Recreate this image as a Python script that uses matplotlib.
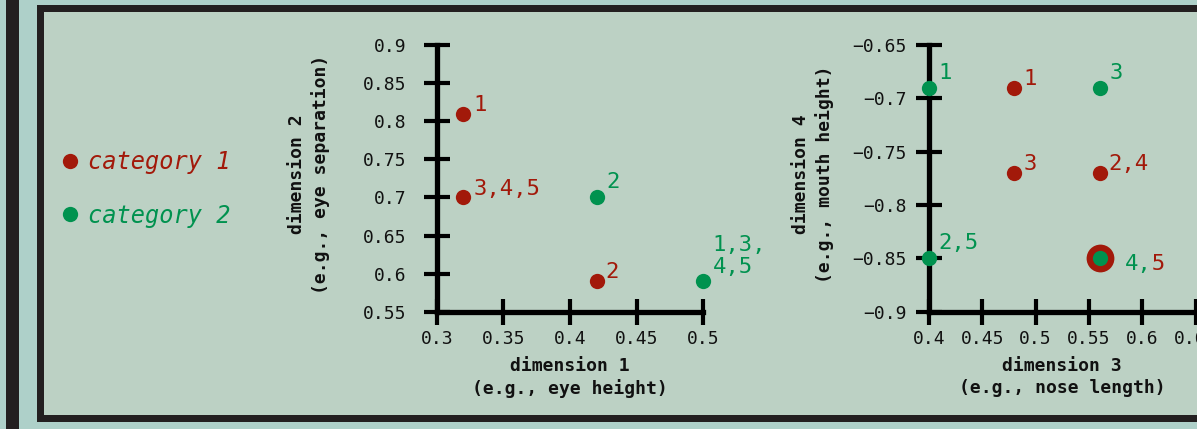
import matplotlib
matplotlib.use('Agg')
import matplotlib.pyplot as plt
from matplotlib.lines import Line2D
from matplotlib.patches import Rectangle

W, H = 1197, 429
RED = '#a2190a'
GREEN = '#00924f'
DARK = '#231f20'
OUTER = '#aed0c9'
INNER = '#bcd1c4'
TXT = '#111111'
MONO = 'DejaVu Sans Mono'

# ---------------- data ----------------
categories = ['category 1', 'category 2']

# panel A: dimension 1 vs dimension 2
a_xticks = [0.3, 0.35, 0.4, 0.45, 0.5]
a_xticklabels = ['0.3', '0.35', '0.4', '0.45', '0.5']
a_yticks = [0.55, 0.6, 0.65, 0.7, 0.75, 0.8, 0.85, 0.9]
a_yticklabels = ['0.55', '0.6', '0.65', '0.7', '0.75', '0.8', '0.85', '0.9']
a_cat1_x = [0.32, 0.32, 0.42]
a_cat1_y = [0.81, 0.70, 0.59]
a_cat1_labels = ['1', '3,4,5', '2']
a_cat2_x = [0.42, 0.50]
a_cat2_y = [0.70, 0.59]
a_cat2_labels = ['2', '1,3,\n4,5']
a_xlabel = 'dimension 1\n(e.g., eye height)'
a_ylabel = 'dimension 2\n(e.g., eye separation)'

# panel B: dimension 3 vs dimension 4
b_xticks = [0.4, 0.45, 0.5, 0.55, 0.6, 0.65]
b_xticklabels = ['0.4', '0.45', '0.5', '0.55', '0.6', '0.65']
b_yticks = [-0.9, -0.85, -0.8, -0.75, -0.7, -0.65]
b_yticklabels = ['\u22120.9', '\u22120.85', '\u22120.8', '\u22120.75', '\u22120.7', '\u22120.65']
b_cat1_x = [0.48, 0.48, 0.56, 0.56]
b_cat1_y = [-0.69, -0.77, -0.77, -0.85]
b_cat1_labels = ['1', '3', '2,4', '  5']
b_cat2_x = [0.40, 0.56, 0.40, 0.56]
b_cat2_y = [-0.69, -0.69, -0.85, -0.85]
b_cat2_labels = ['1', '3', '2,5', '4,']
b_xlabel = 'dimension 3\n(e.g., nose length)'
b_ylabel = 'dimension 4\n(e.g., mouth height)'

# label offsets (pixels) -- layout only
a_cat1_off = [(10, 3), (10, 2), (9, 3)]
a_cat2_off = [(10, 9), (9, 8)]
b_cat1_off = [(9, 3), (9, 3), (9, 3), (25, -12)]
b_cat2_off = [(9, 9), (10, 9), (9, 9), (25, -12)]


def fx(px):
    return px / W


def fy(py):
    return 1 - py / H


fig = plt.figure(figsize=(W / 100, H / 100), dpi=100, facecolor=OUTER)

# page decoration
fig.add_artist(Rectangle((fx(6), 0), fx(19) - fx(6), 1, transform=fig.transFigure,
                         facecolor=DARK, edgecolor='none', zorder=0))
fig.add_artist(Rectangle((fx(37), fy(422)), 1, fy(5) - fy(422), transform=fig.transFigure,
                         facecolor=DARK, edgecolor='none', zorder=0))
fig.add_artist(Rectangle((fx(44), fy(415)), 1, fy(12) - fy(415), transform=fig.transFigure,
                         facecolor=INNER, edgecolor='none', zorder=0))

TICK_FS = 13


def make_axes(left_px, xlim, ylim, xticks, xtl, yticks, ytl, ypad):
    ax = fig.add_axes([fx(left_px), fy(311.7), 266.7 / W, 266.7 / H])
    ax.set_facecolor('none')
    ax.set_xlim(*xlim)
    ax.set_ylim(*ylim)
    for s in ['top', 'right']:
        ax.spines[s].set_visible(False)
    for s in ['left', 'bottom']:
        ax.spines[s].set_linewidth(3.8)
        ax.spines[s].set_color('black')
        ax.spines[s].set_capstyle('projecting')
    ax.set_xticks(xticks)
    ax.set_xticklabels(xtl, fontfamily=MONO, fontsize=TICK_FS, color=TXT)
    ax.set_yticks(yticks)
    ax.set_yticklabels(ytl, fontfamily=MONO, fontsize=TICK_FS, color=TXT)
    ax.tick_params(axis='both', direction='inout', length=19, width=3, color='black')
    ax.tick_params(axis='y', pad=ypad)
    ax.tick_params(axis='x', pad=4)
    return ax


def plot_points(ax, x1, y1, l1, o1, x2, y2, l2, o2):
    pts2 = set(zip(x2, y2))
    for x, y, lab, off in zip(x1, y1, l1, o1):
        ms = 20 if (x, y) in pts2 else 11
        ax.plot([x], [y], 'o', color=RED, ms=ms, mew=0, clip_on=False, zorder=5)
        ax.annotate(lab, (x, y), xytext=off, textcoords='offset pixels', ha='left',
                    va='baseline', color=RED, fontsize=16, fontfamily=MONO, zorder=7,
                    annotation_clip=False)
    for x, y, lab, off in zip(x2, y2, l2, o2):
        ax.plot([x], [y], 'o', color=GREEN, ms=11, mew=0, clip_on=False, zorder=6)
        ax.annotate(lab, (x, y), xytext=off, textcoords='offset pixels', ha='left',
                    va='baseline', color=GREEN, fontsize=16, fontfamily=MONO, zorder=7,
                    annotation_clip=False, linespacing=1.15)


axA = make_axes(436.7, (0.3, 0.5), (0.55, 0.9), a_xticks, a_xticklabels,
                a_yticks, a_yticklabels, 12)
plot_points(axA, a_cat1_x, a_cat1_y, a_cat1_labels, a_cat1_off,
            a_cat2_x, a_cat2_y, a_cat2_labels, a_cat2_off)

axB = make_axes(929, (0.4, 0.65), (-0.9, -0.65), b_xticks, b_xticklabels,
                b_yticks, b_yticklabels, 6.5)
plot_points(axB, b_cat1_x, b_cat1_y, b_cat1_labels, b_cat1_off,
            b_cat2_x, b_cat2_y, b_cat2_labels, b_cat2_off)

# axis labels
lab_kw = dict(fontfamily=MONO, fontsize=13, fontweight='bold', color=TXT,
              multialignment='center', linespacing=1.3)
fig.text(fx(570), fy(357), a_xlabel, ha='center', va='top', **lab_kw)
fig.text(fx(1062), fy(357), b_xlabel, ha='center', va='top', **lab_kw)
fig.text(fx(309), fy(174), a_ylabel, ha='center', va='center', rotation=90, **lab_kw)
fig.text(fx(813), fy(174), b_ylabel, ha='center', va='center', rotation=90, **lab_kw)

# legend
handles = [Line2D([], [], marker='o', ls='none', color=c, ms=11, mew=0) for c in (RED, GREEN)]
leg = fig.legend(handles, categories, loc='center left', bbox_to_anchor=(fx(62), fy(189)),
                 frameon=False, handlelength=0.65, handletextpad=0.45, labelspacing=1.25,
                 borderpad=0, borderaxespad=0, labelcolor=[RED, GREEN],
                 prop=dict(family=MONO, style='italic', size=17))

fig.savefig('out.png', dpi=100, facecolor=OUTER)
